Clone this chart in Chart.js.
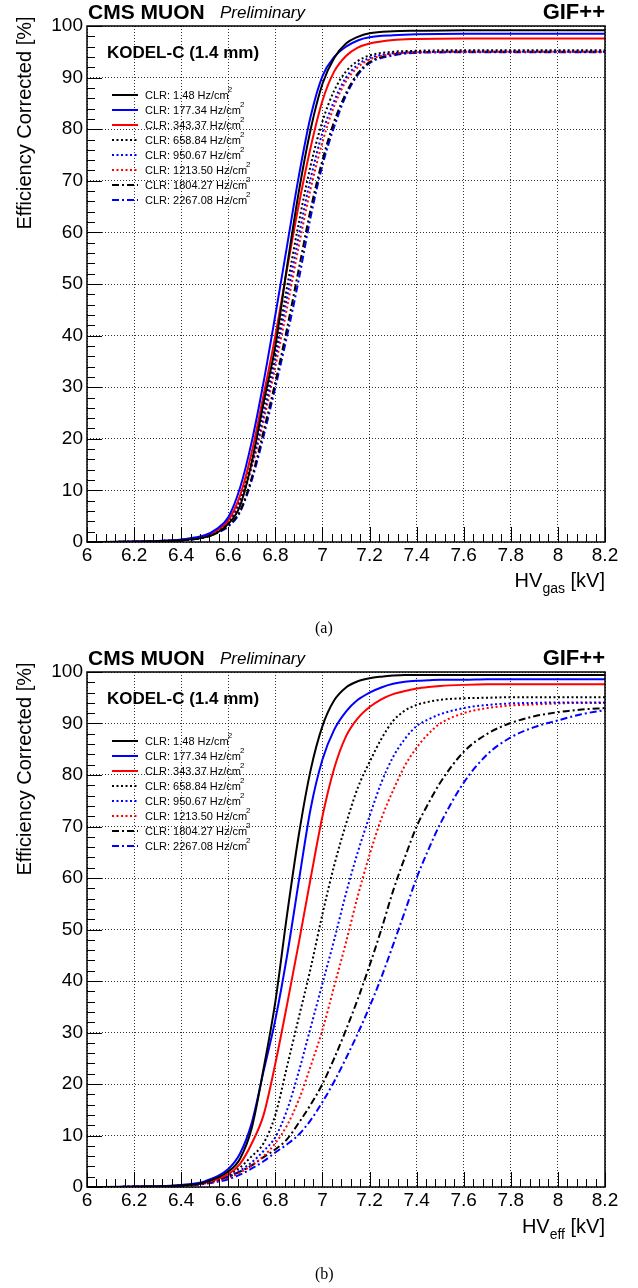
<!DOCTYPE html>
<html><head><meta charset="utf-8">
<script src="https://cdn.jsdelivr.net/npm/chart.js@4.4.0/dist/chart.umd.min.js"></script>
<style>
html,body{margin:0;padding:0;background:#fff;}
body{width:638px;height:1288px;position:relative;overflow:hidden;font-family:"Liberation Sans",Arial,sans-serif;color:#000;}
canvas{position:absolute;left:0;}
.t{position:absolute;white-space:nowrap;line-height:1;color:#000;}
.row{position:absolute;left:112px;height:15px;display:flex;align-items:center;white-space:nowrap;font-size:11px;line-height:1;}
.row svg{display:block;}
.row span.s{font-size:8px;position:relative;top:-5px;margin-left:-1px;}
</style></head><body>
<canvas id="cA" width="638" height="644" style="top:0"></canvas>
<canvas id="cB" width="638" height="644" style="top:644px"></canvas>
<div id="ov"></div>
<script>
// ---------- data ----------
const clrLabels = ['1.48','177.34','343.37','658.84','950.67','1213.50','1804.27','2267.08'];
const xTickValues = [6,6.2,6.4,6.6,6.8,7,7.2,7.4,7.6,7.8,8,8.2];
const xTickLabels = ['6','6.2','6.4','6.6','6.8','7','7.2','7.4','7.6','7.8','8','8.2'];
const yTickValues = [0,10,20,30,40,50,60,70,80,90,100];
const yTickLabels = ['0','10','20','30','40','50','60','70','80','90','100'];

// panel (a): efficiency vs HV_gas
const hvGas = [6.0,6.2,6.3,6.4,6.5,6.55,6.6,6.65,6.7,6.75,6.8,6.85,6.9,6.95,7.0,7.05,7.1,7.15,7.2,7.3,7.4,7.6,7.8,8.0,8.2];
const effGas_1 = [0,0.05,0.15,0.35,0.9,1.7,3.5,7,15.5,27,38,53.5,68,80,88.8,93.8,96.6,97.9,98.6,99.0,99.1,99.2,99.2,99.2,99.2];
const effGas_2 = [0,0.08,0.2,0.5,1.3,2.5,4.8,10.5,19.5,31,44,57.5,71,82.5,90.3,94,96,97.2,97.8,98.2,98.4,98.5,98.5,98.5,98.5];
const effGas_3 = [0,0.06,0.18,0.4,1.1,2.2,4.2,9,17.5,28.5,40,53,65.5,76.5,85.5,91.2,94.2,95.8,96.6,97.3,97.5,97.6,97.6,97.6,97.6];
const effGas_4 = [0,0.06,0.18,0.4,1.0,2.0,4.0,8.5,16,26,37,49.5,62,73,81.5,87.5,91.2,93.2,94.3,95.0,95.2,95.3,95.3,95.3,95.3];
const effGas_5 = [0,0.06,0.18,0.4,1.1,2.0,4.0,8,15,24.5,35.5,47.5,59.5,70.5,79.3,85.5,90,92.5,93.8,94.7,94.9,95,95,95,95];
const effGas_6 = [0,0.06,0.18,0.4,1.1,2.0,3.8,7.5,14.5,23.5,34,45.5,57.5,68.5,77.5,84.5,89.3,92,93.5,94.6,94.9,95,95,95,95];
const effGas_7 = [0,0.05,0.15,0.3,0.9,1.8,3.2,6,12.5,21.5,31,41.5,53,64.5,74,81.5,87,90.8,93,94.5,94.9,95,95,95,95];
const effGas_8 = [0,0.05,0.15,0.3,0.9,1.7,3.0,5.8,12,20.5,30,40,51,63,73,80.5,86.5,90.5,92.8,94.3,94.8,94.9,94.9,94.9,94.9];

// panel (b): efficiency vs HV_eff
const hvEff = [6.0,6.2,6.4,6.5,6.6,6.65,6.7,6.75,6.8,6.85,6.9,6.95,7.0,7.05,7.1,7.15,7.2,7.25,7.3,7.35,7.4,7.45,7.5,7.6,7.7,7.8,7.9,8.0,8.1,8.2];
const effEff_1 = [0,0.05,0.3,0.9,3,5.5,11.5,23,36,53,68.5,81,89.5,94.5,97,98.2,98.8,99.1,99.3,99.4,99.4,99.4,99.4,99.4,99.4,99.4,99.4,99.4,99.4,99.4];
const effEff_2 = [0,0.08,0.4,1.1,3.5,6.5,12.5,22.5,32.5,45,59.5,73.5,83,88.8,92.3,94.6,96,97,97.7,98.1,98.3,98.4,98.5,98.5,98.6,98.6,98.6,98.6,98.6,98.6];
const effEff_3 = [0,0.06,0.3,0.8,2.5,4.5,8.5,14,24,35.5,47.5,60,72,81.3,87.5,91,93.2,94.7,95.7,96.3,96.8,97.1,97.3,97.5,97.6,97.6,97.6,97.6,97.6,97.6];
const effEff_4 = [0,0.05,0.3,0.8,2.3,3.8,6,8.5,14,23.5,33,42.5,53,62.5,70.5,77.5,82.5,87,90.5,92.5,93.6,94.2,94.6,94.9,95,95.1,95.1,95.1,95.1,95.1];
const effEff_5 = [0,0.05,0.3,0.8,2,3.2,4.8,7,9.7,15,22.5,31,39.5,48,57,65,72,78.5,83.5,87,89.5,90.8,91.8,93,93.6,93.9,94,94.1,94.1,94.1];
const effEff_6 = [0,0.05,0.3,0.7,1.8,2.8,4.2,6,8.5,12,17,23.5,30.5,39,47.5,56.5,64.5,71.5,77,81.8,85.3,88,90,92,93,93.5,93.7,93.9,94,94];
const effEff_7 = [0,0.05,0.3,0.8,2,3,4.2,5.8,7.3,9.3,12.5,16,20,25,30.5,36.5,43,50,57.5,64,70,74.5,78.5,84.5,88,90.1,91.4,92.2,92.7,93];
const effEff_8 = [0,0.04,0.2,0.6,1.5,2.4,3.6,5,6.7,8.3,10.2,13,16.5,20.5,25,29.8,35,40.7,47,53.5,60,65.5,70.5,78.5,84,87.3,89.3,90.6,91.8,92.6];

// ---------- styles ----------
const lineColors = ['#000000','#0000ff','#ff0000','#000000','#0000ff','#ff0000','#000000','#0000ff'];
const DOT = [2,2.5], DASHDOT = [7,3,2,3];
const lineDashes = [[],[],[],DOT,DOT,DOT,DASHDOT,DASHDOT];
const FONT = '"Liberation Sans", Arial, sans-serif';

const frameTicks = {
  id:'frameTicks',
  afterDatasetsDraw(chart){
    const {ctx, chartArea:a, scales:{x, y}} = chart;
    ctx.save();
    ctx.strokeStyle = '#000'; ctx.lineWidth = 1; ctx.setLineDash([]);
    ctx.beginPath();
    const xMinorStep = 0.04, yMinorStep = 2;
    for (let i = 0; i <= 55; i++) {
      const px = Math.round(x.getPixelForValue(6 + i * xMinorStep)) + 0.5;
      const len = (i % 5 === 0) ? 15 : 8;
      ctx.moveTo(px, a.bottom); ctx.lineTo(px, a.bottom - len);
    }
    for (let i = 0; i <= 50; i++) {
      const py = Math.round(y.getPixelForValue(i * yMinorStep)) + 0.5;
      const len = (i % 5 === 0) ? 15 : 8;
      ctx.moveTo(a.left, py); ctx.lineTo(a.left + len, py);
    }
    ctx.stroke();
    ctx.lineWidth = 1.5;
    ctx.strokeRect(a.left, a.top, a.right - a.left, a.bottom - a.top);
    ctx.restore();
  }
};

function makeChart(id, xs, series, topPad, xHeight){
  const datasets = series.map((ys, k) => ({
    label: 'CLR: ' + clrLabels[k] + ' Hz/cm2',
    data: xs.map((xv, j) => ({x: xv, y: ys[j]})),
    borderColor: lineColors[k],
    borderDash: lineDashes[k],
    borderWidth: 2,
    fill: false,
    pointRadius: 0,
    cubicInterpolationMode: 'monotone'
  }));
  return new Chart(document.getElementById(id), {
    type: 'line',
    data: {datasets},
    plugins: [frameTicks],
    options: {
      responsive: false, animation: false, devicePixelRatio: 1,
      layout: {padding: {top: topPad, right: 33, left: 0, bottom: 0}},
      plugins: {legend: {display: false}, tooltip: {enabled: false}},
      scales: {
        x: {
          type: 'linear', min: 6, max: 8.2,
          afterBuildTicks: s => { s.ticks = xTickValues.map(v => ({value: v})); },
          afterFit: s => { s.height = xHeight; },
          ticks: {autoSkip: false, maxRotation: 0, minRotation: 0, padding: 2, color: '#000',
                  font: {family: FONT, size: 19}, callback: (v, i) => xTickLabels[i]},
          grid: {color: 'rgba(0,0,0,0.8)', lineWidth: 1, drawTicks: false},
          border: {display: false, dash: [1, 2]}
        },
        y: {
          type: 'linear', min: 0, max: 100,
          afterBuildTicks: s => { s.ticks = yTickValues.map(v => ({value: v})); },
          afterFit: s => { s.width = 87; },
          ticks: {autoSkip: false, padding: 4, color: '#000',
                  font: {family: FONT, size: 19}, callback: (v, i) => yTickLabels[i]},
          grid: {color: 'rgba(0,0,0,0.8)', lineWidth: 1, drawTicks: false},
          border: {display: false, dash: [1, 2]}
        }
      }
    }
  });
}

makeChart('cA', hvGas, [effGas_1,effGas_2,effGas_3,effGas_4,effGas_5,effGas_6,effGas_7,effGas_8], 26, 102);
makeChart('cB', hvEff, [effEff_1,effEff_2,effEff_3,effEff_4,effEff_5,effEff_6,effEff_7,effEff_8], 28, 101);

// ---------- text overlays ----------
const ov = document.getElementById('ov');
function add(html, style){ const d = document.createElement('div'); d.className = 't'; d.innerHTML = html; d.setAttribute('style', style); ov.appendChild(d); return d; }
function panelText(dy, sub, tag){
  add('CMS MUON', `left:88px;top:${0.5+dy}px;font-size:21px;font-weight:bold;`);
  add('Preliminary', `left:220px;top:${3.9+dy}px;font-size:17px;font-style:italic;`);
  add('GIF++', `right:33px;top:${0.7+dy}px;font-size:22px;font-weight:bold;`);
  add('KODEL-C (1.4 mm)', `left:107px;top:${44+dy}px;font-size:17px;font-weight:bold;`);
  add('Efficiency Corrected [%]', `left:24px;top:${122.5+dy}px;font-size:20px;transform:translate(-50%,-50%) rotate(-90deg);`);
  add(`HV<span style="font-size:14px;position:relative;top:6px;">${sub}</span> [kV]`, `right:33px;top:${569.8+dy}px;font-size:20px;`);
  add(tag, `left:315px;top:${619.6+dy}px;font-size:16px;font-family:"Liberation Serif","Times New Roman",serif;`);
  clrLabels.forEach((c, k) => {
    const r = document.createElement('div');
    r.className = 'row';
    r.style.top = (95 + 15 * k - 7.5 + dy) + 'px';
    const dash = lineDashes[k].length ? `stroke-dasharray="${lineDashes[k].join(',')}"` : '';
    r.innerHTML = `<svg width="26" height="4"><line x1="0" y1="2" x2="26" y2="2" stroke="${lineColors[k]}" stroke-width="2" ${dash}/></svg><span style="margin-left:7px">CLR: ${c} Hz/cm</span><span class="s">2</span>`;
    ov.appendChild(r);
  });
}
panelText(0, 'gas', '(a)');
panelText(646, 'eff', '(b)');
</script>
</body></html>
